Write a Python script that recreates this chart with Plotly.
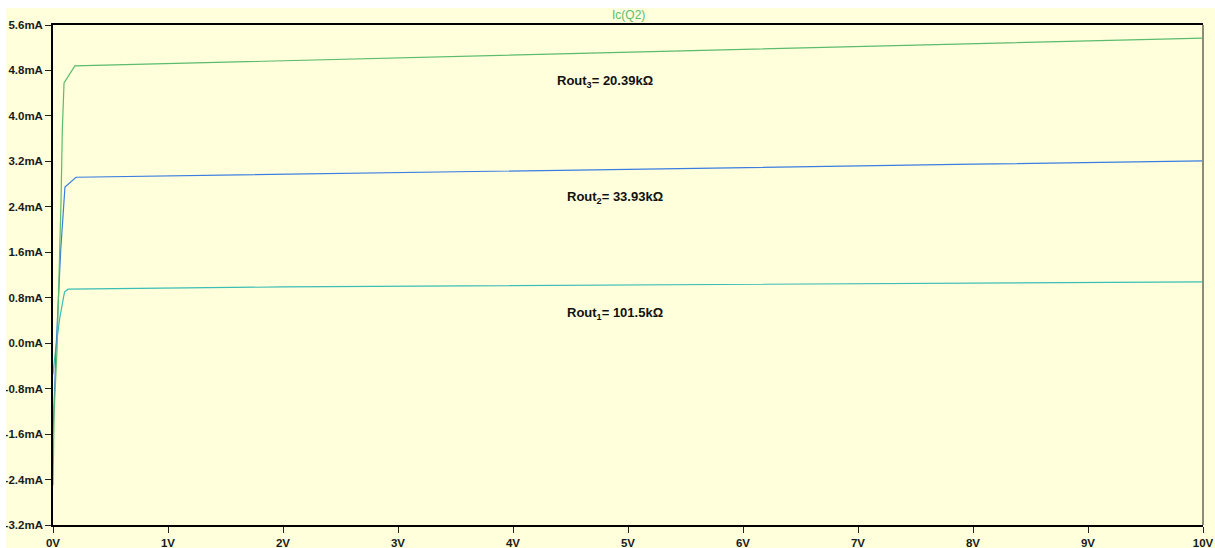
import plotly.graph_objects as go

# Data (V in volts, I in mA)
v_green = [0, 0.01, 0.035, 0.061, 0.07, 0.081, 0.096, 0.19, 2.0, 5.0, 8.0, 10]
i_green = [-2.5, -1.2, -0.12, 1.64, 2.52, 3.75, 4.58, 4.88, 4.97, 5.12, 5.27, 5.37]

v_blue = [0, 0.012, 0.026, 0.067, 0.096, 0.104, 0.2, 2.0, 5.0, 8.0, 10]
i_blue = [-1.6, -0.8, -0.12, 1.64, 2.52, 2.75, 2.92, 2.97, 3.06, 3.15, 3.21]

v_cyan = [0, 0.003, 0.026, 0.06, 0.1, 0.13, 2.0, 5.0, 8.0, 10]
i_cyan = [-0.55, -0.47, -0.06, 0.46, 0.9, 0.95, 0.99, 1.02, 1.05, 1.08]

labels = ["Rout<sub>3</sub>= 20.39kΩ", "Rout<sub>2</sub>= 33.93kΩ", "Rout<sub>1</sub>= 101.5kΩ"]
label_x = [4.8, 4.89, 4.89]
label_y = [4.6, 2.57, 0.53]

x_ticks = [0, 1, 2, 3, 4, 5, 6, 7, 8, 9, 10]
x_ticktext = ["0V", "1V", "2V", "3V", "4V", "5V", "6V", "7V", "8V", "9V", "10V"]
y_ticks = [-3.2, -2.4, -1.6, -0.8, 0.0, 0.8, 1.6, 2.4, 3.2, 4.0, 4.8, 5.6]
y_ticktext = ["-3.2mA", "-2.4mA", "-1.6mA", "-0.8mA", "0.0mA", "0.8mA", "1.6mA",
              "2.4mA", "3.2mA", "4.0mA", "4.8mA", "5.6mA"]

title_text = "Ic(Q2)"

c_green = "#5cbb6c"
c_blue = "#3b7de0"
c_cyan = "#3cbdb5"
bg = "#ffffdc"
FONT = "Arial, Liberation Sans, sans-serif"

fig = go.Figure()
fig.add_trace(go.Scatter(x=v_cyan, y=i_cyan, mode="lines", line=dict(color=c_cyan, width=1.2),
                         showlegend=False, cliponaxis=False))
fig.add_trace(go.Scatter(x=v_blue, y=i_blue, mode="lines", line=dict(color=c_blue, width=1.2),
                         showlegend=False, cliponaxis=False))
fig.add_trace(go.Scatter(x=v_green, y=i_green, mode="lines", line=dict(color=c_green, width=1.2),
                         showlegend=False, cliponaxis=False))

for t, x, y in zip(labels, label_x, label_y):
    fig.add_annotation(x=x, y=y, text=t, showarrow=False,
                       font=dict(family=FONT, size=13, color="#111111", weight="bold"),
                       xanchor="center", yanchor="middle")

fig.add_annotation(x=0.5, y=1.0, xref="paper", yref="paper", yshift=1, text=title_text,
                   showarrow=False, xanchor="center", yanchor="bottom",
                   font=dict(family=FONT, size=12, color=c_green))

# right border
fig.add_shape(type="line", xref="paper", yref="paper", x0=1, x1=1, y0=0, y1=1,
              line=dict(color="#8c8c78", width=2))

axis_font = dict(family=FONT, size=11.5, color="#1a1a1a", weight="bold")
fig.update_layout(
    width=1209, height=540,
    margin=dict(l=47, r=12, t=17, b=23),
    paper_bgcolor=bg, plot_bgcolor=bg,
    xaxis=dict(range=[0, 10], tickmode="array", tickvals=x_ticks, ticktext=x_ticktext,
               showgrid=False, zeroline=False, automargin=False,
               showline=True, linecolor="black", linewidth=1.5, mirror=True,
               ticks="outside", ticklen=6, tickcolor="#222222",
               tickfont=axis_font),
    yaxis=dict(range=[-3.2, 5.6], tickmode="array", tickvals=y_ticks, ticktext=y_ticktext,
               showgrid=False, zeroline=False, automargin=False, layer="below traces",
               showline=True, linecolor="black", linewidth=1.5,
               ticks="outside", ticklen=6, tickcolor="#222222", ticklabelstandoff=0,
               tickfont=axis_font),
)

fig.write_html("out.html",
               post_script="document.body.style.margin='8px 0 0 6px';"
                           "document.body.style.overflow='hidden';"
                           "document.documentElement.style.overflow='hidden';")
